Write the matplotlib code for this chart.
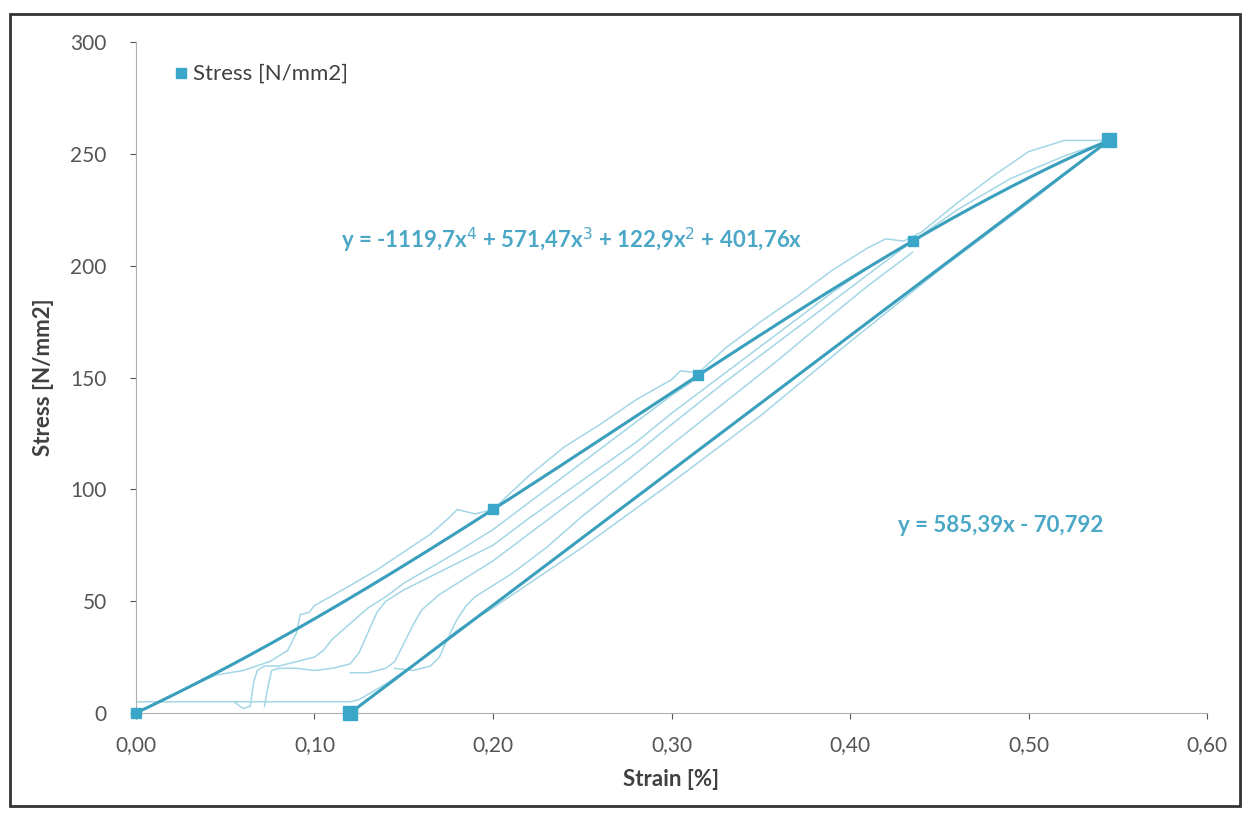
import numpy as np
import matplotlib
matplotlib.use("Agg")
import matplotlib.pyplot as plt
from matplotlib.patches import Rectangle

plt.rcParams['font.family'] = ['Lato', 'DejaVu Sans']

# measured points (cycle peaks)
strain_pts = [0.0, 0.12, 0.20, 0.315, 0.435, 0.545]
stress_pts = [0.0, 0.0, 91.0, 151.0, 211.0, 256.0]

poly_label = 'y = -1119,7x$^4$ + 571,47x$^3$ + 122,9x$^2$ + 401,76x'
lin_label = 'y = 585,39x - 70,792'

# raw test curves
raw_outer_x = [0.0, 0.02, 0.045, 0.06, 0.075, 0.085, 0.09, 0.092, 0.097, 0.10, 0.12, 0.135, 0.15,
               0.165, 0.175, 0.18, 0.19, 0.20, 0.22, 0.24, 0.26, 0.28, 0.30, 0.305, 0.315,
               0.33, 0.35, 0.37, 0.39, 0.41, 0.42, 0.43, 0.44, 0.46, 0.48, 0.50, 0.52, 0.545]
raw_outer_y = [0.0, 8, 17, 19, 23, 28, 36, 44, 45, 48, 57, 64, 72,
               80, 87, 91, 89, 91, 106, 119, 129, 140, 149, 153, 152,
               163, 175, 186, 198, 208, 212, 211, 215, 228, 240, 251, 256, 256]

raw_unload_x = [0.545, 0.50, 0.45, 0.40, 0.35, 0.30, 0.25, 0.20, 0.18, 0.16, 0.14, 0.125, 0.12,
                0.09, 0.07, 0.05, 0.02, 0.0]
raw_unload_y = [256, 228, 198, 166, 133, 103, 74, 47, 37, 24, 13, 6, 5,
                5, 5, 5, 5, 5]

raw_loopa_x = [0.055, 0.06, 0.064, 0.066, 0.068, 0.072, 0.08, 0.09, 0.10, 0.105, 0.11, 0.12, 0.13,
               0.14, 0.15, 0.165, 0.18, 0.19, 0.20, 0.22, 0.24, 0.26, 0.28, 0.30, 0.315]
raw_loopa_y = [5, 2, 3, 14, 19, 21, 21, 23, 25, 28, 33, 40, 47,
               52, 58, 65, 72, 77, 82, 94, 106, 118, 130, 142, 150]

raw_loopb_x = [0.072, 0.074, 0.076, 0.08, 0.09, 0.10, 0.11, 0.12, 0.125, 0.13, 0.135, 0.14, 0.15,
               0.165, 0.18, 0.20, 0.22, 0.25, 0.28, 0.30, 0.33, 0.36, 0.39, 0.41, 0.435]
raw_loopb_y = [3, 12, 19, 20, 20, 19, 20, 22, 27, 36, 45, 50, 55,
               61, 67, 75, 87, 104, 121, 134, 152, 170, 188, 199, 211]

raw_loopc_x = [0.12, 0.13, 0.14, 0.145, 0.15, 0.155, 0.16, 0.17, 0.18, 0.19, 0.20, 0.22, 0.25,
               0.28, 0.30, 0.33, 0.36, 0.40, 0.43, 0.46, 0.49, 0.52, 0.545]
raw_loopc_y = [18, 18, 20, 23, 31, 39, 46, 53, 58, 63, 68, 80, 98,
               116, 129, 148, 166, 190, 208, 225, 239, 249, 256]

raw_loopd_x = [0.145, 0.155, 0.165, 0.17, 0.175, 0.18, 0.185, 0.19, 0.20, 0.21, 0.23, 0.25, 0.28,
               0.30, 0.33, 0.36, 0.39, 0.41, 0.435]
raw_loopd_y = [20, 19, 21, 25, 34, 42, 48, 52, 57, 62, 74, 88, 107,
               120, 139, 158, 178, 191, 206]

teal = '#3a9fbc'
light = '#a3d6e6'
text_col = '#4aa7c6'

# trendlines fitted on the measured points
lx = np.array(strain_pts[2:])
ly = np.array(stress_pts[2:])
A = np.vstack([lx ** 4, lx ** 3, lx ** 2, lx]).T
poly_fit = np.append(np.linalg.lstsq(A, ly, rcond=None)[0], 0.0)
lin_fit = np.polyfit([strain_pts[1], strain_pts[-1]], [stress_pts[1], stress_pts[-1]], 1)

fig = plt.figure(figsize=(12.47, 8.19), dpi=100)
ax = fig.add_axes([0.109, 0.1294, 0.859, 0.8193])

for xs, ys in [(raw_outer_x, raw_outer_y), (raw_unload_x, raw_unload_y),
               (raw_loopa_x, raw_loopa_y), (raw_loopb_x, raw_loopb_y),
               (raw_loopc_x, raw_loopc_y), (raw_loopd_x, raw_loopd_y)]:
    ax.plot(xs, ys, color=light, lw=1.1, zorder=2)

xp = np.linspace(0, strain_pts[-1], 200)
ax.plot(xp, np.polyval(poly_fit, xp), color=teal, lw=2.2, zorder=3)
xl = np.linspace(strain_pts[1], strain_pts[-1], 50)
ax.plot(xl, np.polyval(lin_fit, xl), color=teal, lw=2.2, zorder=3)

sizes = [7, 10, 7, 7, 7, 10]
for x, y, s in zip(strain_pts, stress_pts, sizes):
    ax.plot(x, y, 's', color='#3aa6c8', ms=s, zorder=4, clip_on=False)

ax.set_xlim(0, 0.6)
ax.set_ylim(0, 300)
ax.set_xticks(np.arange(0, 0.61, 0.1))
ax.set_xticklabels(['0,00', '0,10', '0,20', '0,30', '0,40', '0,50', '0,60'])
ax.set_yticks(range(0, 301, 50))
ax.tick_params(labelsize=15, colors='#555555', length=4, width=0.8)
ax.tick_params(axis='x', pad=12)
ax.tick_params(axis='y', pad=17)
for sp in ['top', 'right']:
    ax.spines[sp].set_visible(False)
for sp in ['left', 'bottom']:
    ax.spines[sp].set_color('#b0b0b0')

ax.set_xlabel('Strain [%]', fontsize=16, fontweight='bold', color='#404040', labelpad=10)
ax.set_ylabel('Stress [N/mm2]', fontsize=16, fontweight='bold', color='#404040', labelpad=12)

ax.plot([0.025], [286], 's', color='#3aa6c8', ms=7, clip_on=False)
ax.text(0.032, 286, 'Stress [N/mm2]', fontsize=16, color='#404040', va='center')

ax.text(0.1147, 211.5, poly_label, fontsize=16, fontweight='bold', color=text_col, va='center')
ax.text(0.427, 84, lin_label, fontsize=16, fontweight='bold', color=text_col, va='center')

fig.patches.append(Rectangle((0.008, 0.016), 0.986, 0.967, transform=fig.transFigure,
                             fill=False, edgecolor='#333333', lw=2))

fig.savefig('out.png', dpi=100)
